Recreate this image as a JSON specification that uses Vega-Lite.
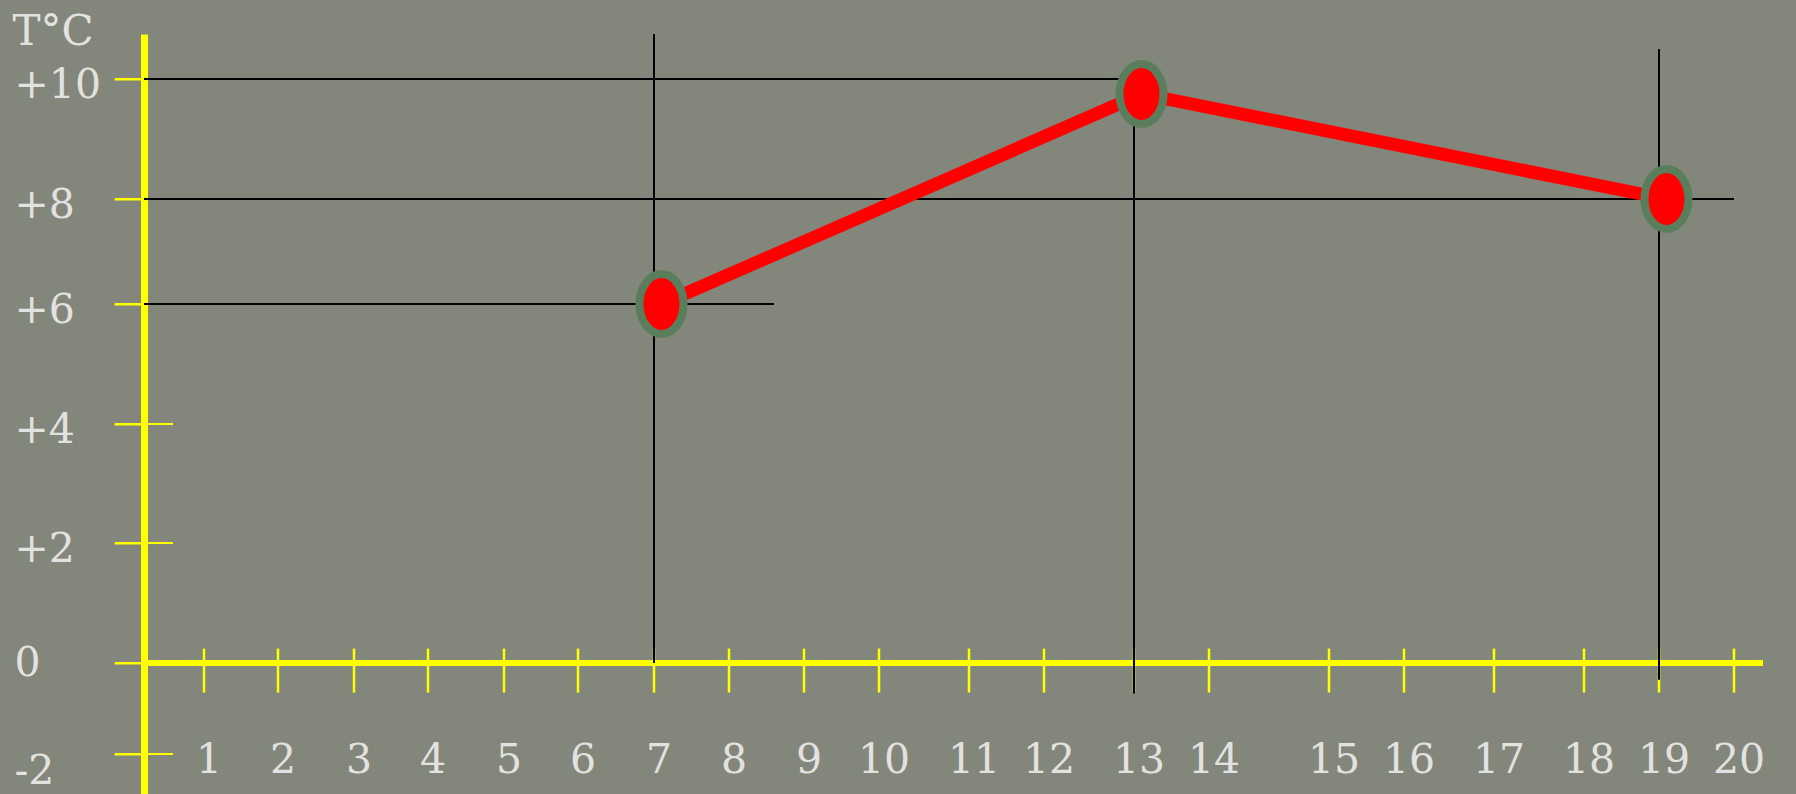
{
  "$schema": "https://vega.github.io/schema/vega-lite/v6.json",
  "autosize": {"type": "none"},
  "width": 1620,
  "height": 760,
  "padding": {"left": 144, "top": 34, "right": 32, "bottom": 0},
  "background": "#83867a",
  "config": {"view": {"stroke": null}},
  "datasets": {
    "temps": [
      {"hour": 7.1, "temp": 6.0},
      {"hour": 13.1, "temp": 9.75},
      {"hour": 19.1, "temp": 8.0}
    ],
    "guides": [
      {"x1": 0, "x2": 13, "y1": 10, "y2": 10},
      {"x1": 0, "x2": 20, "y1": 8, "y2": 8},
      {"x1": 0, "x2": 8.6, "y1": 6, "y2": 6},
      {"x1": 7, "x2": 7, "y1": 10.75, "y2": 0},
      {"x1": 13, "x2": 13, "y1": 9.75, "y2": -0.67},
      {"x1": 19, "x2": 19, "y1": 10.5, "y2": -0.37}
    ],
    "hours": [
      {"h": 1}, {"h": 2}, {"h": 3}, {"h": 4}, {"h": 5}, {"h": 6}, {"h": 7}, {"h": 8}, {"h": 9}, {"h": 10},
      {"h": 11}, {"h": 12}, {"h": 13}, {"h": 14}, {"h": 15}, {"h": 16}, {"h": 17}, {"h": 18}, {"h": 19}, {"h": 20}
    ],
    "degrees": [
      {"t": -2}, {"t": 0}, {"t": 2}, {"t": 4}, {"t": 6}, {"t": 8}, {"t": 10}
    ],
    "xaxis": [{"from": 0, "to": 20.4, "t": 0}]
  },
  "layer": [
    {
      "data": {"name": "degrees"},
      "mark": {"type": "tick", "orient": "horizontal", "size": 58, "thickness": 2, "color": "#ffff00", "opacity": 1},
      "encoding": {
        "x": {"datum": 0, "type": "quantitative",
          "scale": {"type": "linear", "zero": false, "nice": false,
            "domain": [0, 1, 2, 3, 4, 5, 6, 7, 8, 9, 10, 11, 12, 13, 14, 15, 16, 17, 18, 19, 20, 20.4],
            "range": [0, 60, 134, 210, 284, 360, 434, 510, 585, 660, 735, 825, 900, 990, 1065, 1185, 1260, 1350, 1440, 1515, 1590, 1619]},
          "axis": null},
        "y": {"field": "t", "type": "quantitative",
          "scale": {"type": "linear", "zero": false, "nice": false,
            "domain": [-2.88, -2, 0, 2, 4, 6, 8, 10, 10.75],
            "range": [760, 720, 629, 509, 390, 270, 165, 45, 0]},
          "axis": {
            "orient": "left",
            "values": [-2, 0, 2, 4, 6, 8, 10],
            "labelExpr": "datum.value > 0 ? '+' + datum.value : '' + datum.value",
            "labelFont": "DejaVu Serif",
            "labelFontSize": 41,
            "labelColor": "#e2e2e0",
            "labelAlign": "left",
            "labelBaseline": "middle",
            "labelPadding": 100,
            "labelOffset": {"condition": [{"test": "datum.value == -2", "value": 17}, {"test": "datum.value == 0", "value": 0}], "value": 6},
            "labelOverlap": false,
            "labelFlush": false,
            "labelBound": false,
            "domain": true,
            "domainColor": "#ffff00",
            "domainWidth": 7,
            "ticks": true,
            "tickSize": 30,
            "tickColor": "#ffff00",
            "tickWidth": 2,
            "grid": false,
            "title": "T°C",
            "titleAngle": 0,
            "titleAlign": "left",
            "titleBaseline": "alphabetic",
            "titleX": -132,
            "titleY": 10,
            "titleFont": "DejaVu Serif",
            "titleFontSize": 42,
            "titleFontWeight": "normal",
            "titleColor": "#e2e2e0"
          }}
      }
    },
    {
      "data": {"name": "xaxis"},
      "mark": {"type": "rule", "color": "#ffff00", "strokeWidth": 6},
      "encoding": {
        "x": {"field": "from", "type": "quantitative", "axis": null},
        "x2": {"field": "to"},
        "y": {"field": "t", "type": "quantitative"}
      }
    },
    {
      "data": {"name": "hours"},
      "mark": {"type": "rule", "color": "#ffff00", "strokeWidth": 2.5},
      "encoding": {
        "x": {"field": "h", "type": "quantitative", "axis": null},
        "y": {"datum": 0.24, "type": "quantitative"},
        "y2": {"datum": -0.65}
      }
    },
    {
      "data": {"name": "guides"},
      "mark": {"type": "rule", "color": "#000000", "strokeWidth": 2},
      "encoding": {
        "x": {"field": "x1", "type": "quantitative", "axis": null},
        "x2": {"field": "x2"},
        "y": {"field": "y1", "type": "quantitative"},
        "y2": {"field": "y2"}
      }
    },
    {
      "data": {"name": "temps"},
      "mark": {"type": "line", "color": "#ff0000", "strokeWidth": 13, "strokeCap": "round"},
      "encoding": {
        "x": {"field": "hour", "type": "quantitative", "axis": null},
        "y": {"field": "temp", "type": "quantitative"}
      }
    },
    {
      "data": {"name": "temps"},
      "mark": {"type": "point", "filled": true, "fill": "#ff0000", "stroke": "#5a7d5c", "strokeWidth": 8, "opacity": 1, "fillOpacity": 1, "strokeOpacity": 1,
        "shape": "M 0 -1.36 A 1 1.36 0 1 1 0 1.36 A 1 1.36 0 1 1 0 -1.36 Z", "size": 1936},
      "encoding": {
        "x": {"field": "hour", "type": "quantitative", "axis": null},
        "y": {"field": "temp", "type": "quantitative"}
      }
    },
    {
      "data": {"name": "hours"},
      "mark": {"type": "text", "font": "DejaVu Serif", "fontSize": 41, "color": "#e2e2e0", "baseline": "middle", "align": "center", "dx": 5},
      "encoding": {
        "x": {"field": "h", "type": "quantitative", "axis": null},
        "y": {"datum": -2.15, "type": "quantitative"},
        "text": {"field": "h", "type": "nominal"}
      }
    }
  ]
}
